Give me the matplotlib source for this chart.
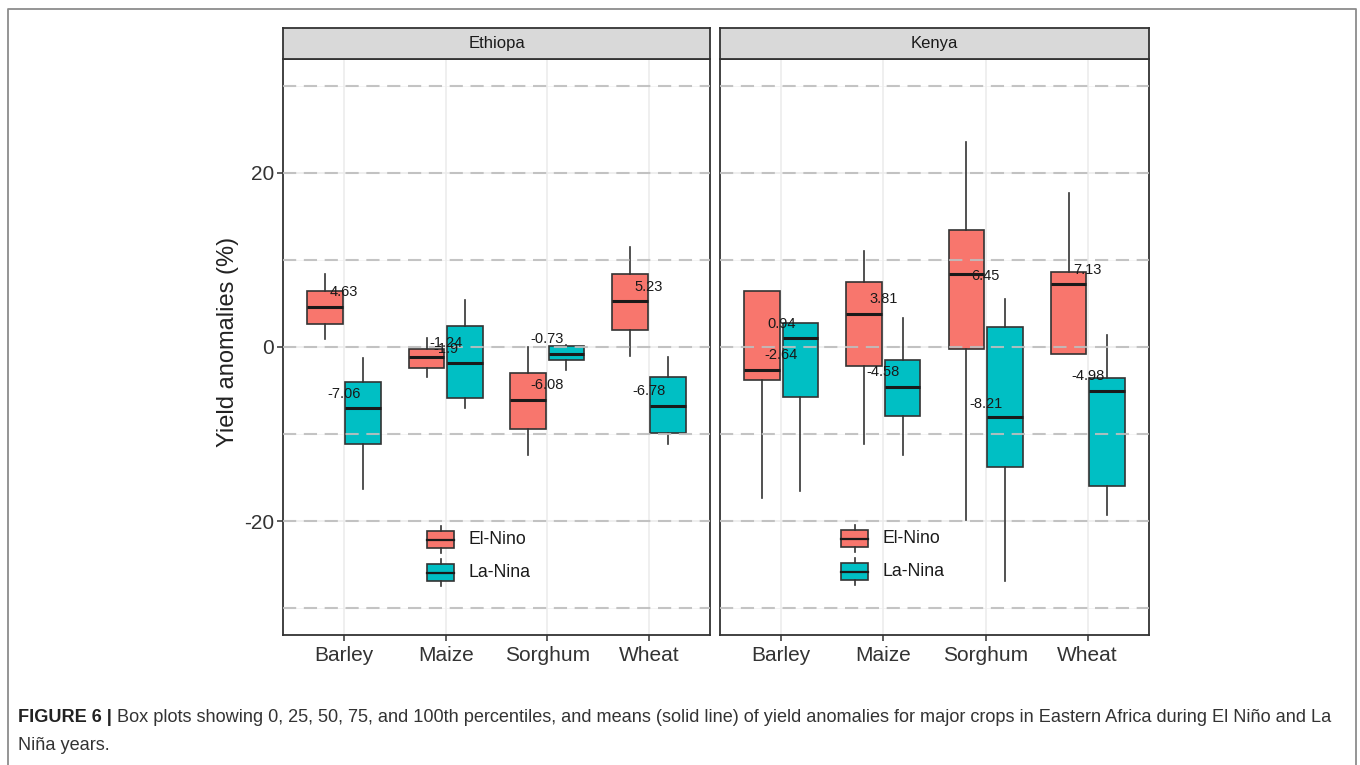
import matplotlib
matplotlib.use('Agg')
import matplotlib.pyplot as plt
from matplotlib.patches import Rectangle
from matplotlib.lines import Line2D

plt.rcParams['font.family'] = ['Liberation Sans', 'DejaVu Sans']
plt.rcParams['lines.scale_dashes'] = False
plt.rcParams['axes.unicode_minus'] = False

crops = ['Barley', 'Maize', 'Sorghum', 'Wheat']
phases = ['El-Nino', 'La-Nina']
colors = ['#F8766D', '#00BFC4']

# Ethiopia, El-Nino
eth_el_lo = [0.9, -3.4, -12.4, -1.0]
eth_el_q1 = [2.6, -2.4, -9.4, 2.0]
eth_el_med = [4.6, -1.2, -6.1, 5.25]
eth_el_q3 = [6.4, -0.2, -3.0, 8.35]
eth_el_hi = [8.35, 1.0, 0.0, 11.5]
eth_el_mean = [4.63, -1.24, -6.08, 5.23]
# Ethiopia, La-Nina
eth_la_lo = [-16.3, -7.05, -2.6, -11.1]
eth_la_q1 = [-11.2, -5.85, -1.5, -9.85]
eth_la_med = [-7.0, -1.85, -0.75, -6.75]
eth_la_q3 = [-4.0, 2.45, 0.1, -3.5]
eth_la_hi = [-1.25, 5.35, 0.2, -1.1]
eth_la_mean = [-7.06, -1.9, -0.73, -6.78]
# Kenya, El-Nino
ken_el_lo = [-17.3, -11.15, -19.9, -0.85]
ken_el_q1 = [-3.85, -2.15, -0.2, -0.85]
ken_el_med = [-2.65, 3.85, 8.4, 7.2]
ken_el_q3 = [6.4, 7.5, 13.5, 8.65]
ken_el_hi = [6.4, 11.05, 23.6, 17.65]
ken_el_mean = [-2.64, 3.81, 6.45, 7.13]
# Kenya, La-Nina
ken_la_lo = [-16.5, -12.4, -26.9, -19.3]
ken_la_q1 = [-5.75, -7.95, -13.75, -15.95]
ken_la_med = [1.0, -4.55, -8.1, -5.0]
ken_la_q3 = [2.8, -1.45, 2.35, -3.55]
ken_la_hi = [2.8, 3.3, 5.5, 1.4]
ken_la_mean = [0.94, -4.58, -8.21, -4.98]

W, H = 1360, 765
fig = plt.figure(figsize=(13.6, 7.65), dpi=100)


def fx(px):
    return px / W


def fy(py):
    return 1 - py / H


def make_stats(lo, q1, med, q3, hi):
    return [dict(whislo=a, q1=b, med=c, q3=d, whishi=e, fliers=[])
            for a, b, c, d, e in zip(lo, q1, med, q3, hi)]


panels = [
    ('Ethiopa', 283, 710,
     [(eth_el_lo, eth_el_q1, eth_el_med, eth_el_q3, eth_el_hi, eth_el_mean),
      (eth_la_lo, eth_la_q1, eth_la_med, eth_la_q3, eth_la_hi, eth_la_mean)],
     (427, 531)),
    ('Kenya', 720, 1149,
     [(ken_el_lo, ken_el_q1, ken_el_med, ken_el_q3, ken_el_hi, ken_el_mean),
      (ken_la_lo, ken_la_q1, ken_la_med, ken_la_q3, ken_la_hi, ken_la_mean)],
     (841, 530)),
]

dark = '#333333'
pos = [1, 2, 3, 4]
offsets = [-0.1875, 0.1875]

for k, (name, left, right, series, key_xy) in enumerate(panels):
    ax = fig.add_axes([fx(left), fy(635), (right - left) / W, (635 - 59) / H])
    ax.set_xlim(0.4, 4.6)
    ax.set_ylim(-33.1, 33.1)

    # theme_bw grid
    for y in [-20, 0, 20]:
        ax.axhline(y, color='#EBEBEB', lw=1.1, zorder=0)
    for y in [-30, -10, 10, 30]:
        ax.axhline(y, color='#F2F2F2', lw=0.6, zorder=0)
    for x in pos:
        ax.axvline(x, color='#EBEBEB', lw=1.1, zorder=0)

    for j, (lo, q1, med, q3, hi, mean) in enumerate(series):
        ax.bxp(make_stats(lo, q1, med, q3, hi),
               positions=[p + offsets[j] for p in pos], widths=0.35,
               patch_artist=True, showcaps=False, showfliers=False,
               boxprops=dict(facecolor=colors[j], edgecolor=dark, lw=1.2),
               whiskerprops=dict(color=dark, lw=1.2),
               medianprops=dict(color='#1a1a1a', lw=2.2),
               zorder=2)
        for p, m in zip(pos, mean):
            ax.annotate(f'{m:g}', xy=(p, m), xytext=(0, 10.5),
                        textcoords='offset points', ha='center', va='center',
                        fontsize=10.5, color='#1a1a1a', zorder=5)

    # dashed reference lines drawn over the boxes
    for y in range(-30, 31, 10):
        ax.axhline(y, color='#BEBEBE', lw=1.5, linestyle=(0, (9.5, 5.5)),
                   alpha=0.9, zorder=4)

    ax.set_xticks(pos)
    ax.set_xticklabels(crops)
    ax.set_yticks([-20, 0, 20])
    ax.tick_params(axis='both', length=4, width=1.1, color=dark,
                   labelsize=15, labelcolor=dark)
    ax.tick_params(axis='x', pad=4)
    ax.tick_params(axis='y', pad=2.5)
    if k > 0:
        ax.tick_params(axis='y', left=False, labelleft=False)
    for s in ax.spines.values():
        s.set_color(dark)
        s.set_linewidth(1.3)

    # facet strip
    sax = fig.add_axes([fx(left), fy(59), (right - left) / W, 31 / H])
    sax.set_facecolor('#D9D9D9')
    sax.set_xticks([])
    sax.set_yticks([])
    for s in sax.spines.values():
        s.set_color(dark)
        s.set_linewidth(1.3)
    sax.text(0.5, 0.5, name, ha='center', va='center', fontsize=12,
             color='#1a1a1a', transform=sax.transAxes)

    # legend inside the panel
    kx, ky = key_xy
    for j, lab in enumerate(phases):
        top = ky + j * 33
        fig.add_artist(Rectangle((fx(kx), fy(top + 17)), 27 / W, 17 / H,
                                 transform=fig.transFigure, facecolor=colors[j],
                                 edgecolor=dark, lw=1.2, zorder=6))
        fig.add_artist(Line2D([fx(kx), fx(kx + 27)], [fy(top + 8.5)] * 2,
                              transform=fig.transFigure, color='#1a1a1a',
                              lw=1.6, zorder=7))
        fig.add_artist(Line2D([fx(kx + 13.5)] * 2, [fy(top - 5), fy(top)],
                              transform=fig.transFigure, color=dark, lw=1.2,
                              zorder=6))
        fig.add_artist(Line2D([fx(kx + 13.5)] * 2, [fy(top + 17), fy(top + 22)],
                              transform=fig.transFigure, color=dark, lw=1.2,
                              zorder=6))
        fig.text(fx(kx + 41), fy(top + 8.5), lab, ha='left', va='center',
                 fontsize=12.7, color='#1a1a1a', zorder=7)

fig.text(fx(228), fy(342), 'Yield anomalies (%)', rotation=90, ha='center',
         va='center', fontsize=17, color='#222222')

# outer frame of the figure
fig.add_artist(Line2D([fx(8), fx(8), fx(1356), fx(1356)],
                      [fy(770), fy(9), fy(9), fy(770)],
                      transform=fig.transFigure, color='#8C8C8C', lw=1.3))

# caption
cap_size = 13.1
bold = 'FIGURE 6 | '
rest1 = ('Box plots showing 0, 25, 50, 75, and 100th percentiles, and means '
         '(solid line) of yield anomalies for major crops in Eastern Africa '
         'during El Niño and La')
rest2 = 'Niña years.'
r = fig.canvas.get_renderer()
t_b = fig.text(fx(18), fy(718), bold, ha='left', va='center',
               fontsize=cap_size, fontweight='bold', color='#222222')
bb = t_b.get_window_extent(renderer=r)
fig.text(bb.x1 / W, fy(718), rest1, ha='left', va='center', fontsize=cap_size,
         color='#333333')
fig.text(fx(18), fy(745), rest2, ha='left', va='center', fontsize=cap_size,
         color='#333333')

fig.savefig('out.png', dpi=100)
